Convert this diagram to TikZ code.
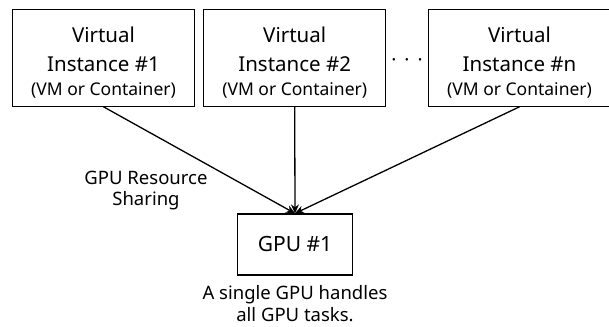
\documentclass[tikz,border=0pt]{standalone}
\usepackage{fontspec}
\setmainfont{Noto Sans}
\usetikzlibrary{arrows.meta}

\begin{document}
\begin{tikzpicture}[x=1pt, y=1pt,
    vbox/.style={draw, line width=1.2pt, minimum width=182pt, minimum height=97pt,
      inner sep=0pt, align=center, font=\fontsize{20.5}{25}\selectfont},
    gbox/.style={draw, line width=1.2pt, minimum width=115pt, minimum height=61pt,
      inner sep=0pt, font=\fontsize{21}{25}\selectfont},
    share/.style={-{Stealth[length=9pt, width=8pt]}, line width=1.3pt},
    note/.style={align=center, inner sep=0pt, font=\fontsize{18.5}{21.7}\selectfont}]
  \useasboundingbox (0,0) rectangle (609,326);

  % --- virtual instances ---
  \node[vbox] (vi1) at (103.5,268.3) {\rule{0pt}{25pt}Virtual\\[4pt]Instance \#1\\[-1.5pt]{\fontsize{17.5}{22}\selectfont (VM or Container)}};
  \node[vbox] (vi2) at (294.7,268.3) {\rule{0pt}{25pt}Virtual\\[4pt]Instance \#2\\[-1.5pt]{\fontsize{17.5}{22}\selectfont (VM or Container)}};
  \node[vbox] (vin) at (519.5,268.3) {\rule{0pt}{25pt}Virtual\\[4pt]Instance \#n\\[-1.5pt]{\fontsize{17.5}{22}\selectfont (VM or Container)}};
  \node[font=\fontsize{19}{19}\selectfont] (dots) at (407,263) {·\hspace{8pt}·\hspace{8pt}·};

  % --- shared GPU ---
  \node[gbox] (gpu) at (295,81.5) {GPU \#1};

  % connectors
  \draw[share] (vi1.south) -- (gpu.north);
  \draw[share] (vi2.south) -- (gpu.north);
  \draw[share] (vin.south) -- (gpu.north);

  % labels
  \node[note] (sharing) at (146,135.5) {GPU Resource\\Sharing};
  \node[note, anchor=north] (single) at (295,40.5) {A single GPU handles\\all GPU tasks.};
\end{tikzpicture}
\end{document}
